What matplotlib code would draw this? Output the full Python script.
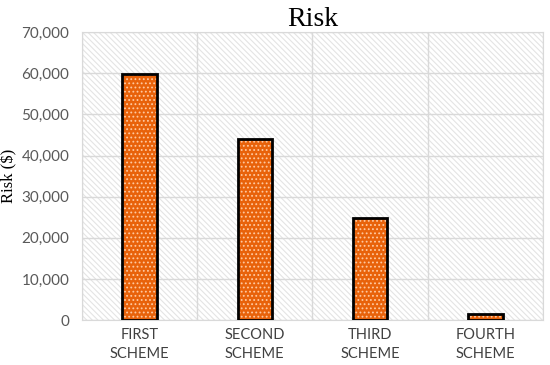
import matplotlib.pyplot as plt
import matplotlib.ticker as mticker
from matplotlib.patches import Rectangle

schemes = ['FIRST\nSCHEME', 'SECOND\nSCHEME', 'THIRD\nSCHEME', 'FOURTH\nSCHEME']
risk = [59700, 43900, 24800, 1500]

plt.rcParams['hatch.linewidth'] = 0.8

fig = plt.figure(figsize=(5.5, 3.65), dpi=100)
ax = fig.add_axes([0.149, 0.123, 0.838, 0.789])

# hatched plot-area background
ax.add_patch(Rectangle((0, 0), 1, 1, transform=ax.transAxes, facecolor='white',
                       edgecolor='#e4e4e4', hatch='\\\\\\\\\\\\', linewidth=0, zorder=0))

x = range(len(schemes))
ax.bar(x, risk, width=0.3, color='#e8620a', edgecolor='#ffc9a0', hatch='....',
       linewidth=0, zorder=3)
ax.bar(x, risk, width=0.3, fill=False, edgecolor='black', linewidth=2, zorder=4)

ax.set_xlim(-0.5, 3.5)
ax.set_ylim(0, 70000)
ax.set_xticks(list(x))
ax.set_xticklabels(schemes, fontsize=10.5, color='#404040', family='Lato', linespacing=1.45)
ax.set_xticks([-0.5, 0.5, 1.5, 2.5, 3.5], minor=True)
ax.yaxis.set_major_locator(mticker.MultipleLocator(10000))
ax.yaxis.set_major_formatter(mticker.StrMethodFormatter('{x:,.0f}'))
for lbl in ax.get_yticklabels():
    lbl.set_family('Lato')
    lbl.set_fontsize(11)
    lbl.set_color('#595959')
ax.tick_params(axis='both', which='both', length=0)
ax.tick_params(axis='y', pad=9)
ax.tick_params(axis='x', pad=6)
ax.grid(axis='y', color='#d9d9d9', linewidth=1, zorder=1)
ax.grid(axis='x', which='minor', color='#d9d9d9', linewidth=1, zorder=1)
ax.set_axisbelow(True)
for s in ax.spines.values():
    s.set_color('#d9d9d9')

ax.set_title('Risk', fontsize=20, family='Liberation Serif', pad=3)
ax.set_ylabel('Risk ($)', fontsize=12, family='Liberation Serif', labelpad=3)

plt.savefig('out.png', dpi=100)
